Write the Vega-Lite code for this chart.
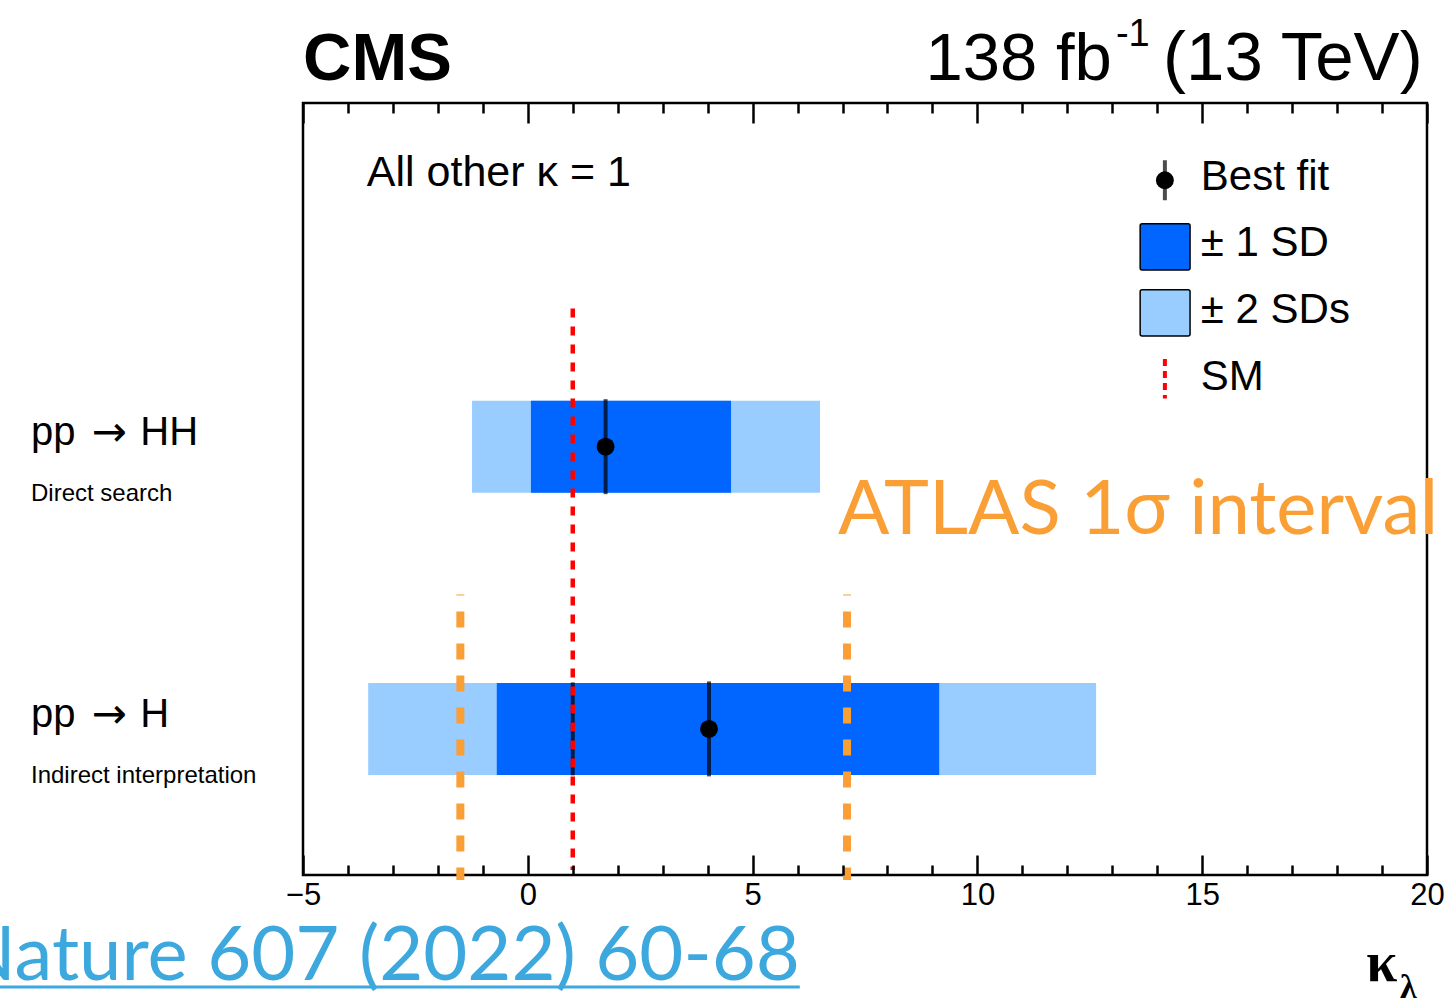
{
  "$schema": "https://vega.github.io/schema/vega-lite/v6.json",
  "width": 1124,
  "height": 772,
  "autosize": {"type": "none"},
  "padding": {"left": 303, "top": 103, "right": 18, "bottom": 131},
  "background": "white",
  "config": {
    "view": {"stroke": "black", "strokeWidth": 2.5},
    "font": "Liberation Sans",
    "text": {"font": "Liberation Sans", "color": "black"}
  },
  "data": {"values": [{}]},
  "datasets": {
    "results": [
      {"initial": "pp", "final": "HH", "note": "Direct search", "row": 2, "lo2": -1.24, "hi2": 6.5, "lo1": 0.07, "hi1": 4.52, "best": 1.73},
      {"initial": "pp", "final": "H", "note": "Indirect interpretation", "row": 1, "lo2": -3.55, "hi2": 12.64, "lo1": -0.69, "hi1": 9.15, "best": 4.03}
    ],
    "atlas": [{"bound": -1.5}, {"bound": 7.1}]
  },
  "resolve": {"axis": {"x": "independent"}},
  "layer": [
    {
      "data": {"name": "results"},
      "mark": {"type": "bar", "size": 92, "color": "#99CCFF"},
      "encoding": {
        "x": {"field": "lo2", "type": "quantitative", "scale": {"domain": [-5, 20], "nice": false, "zero": false},
          "axis": {"orient": "bottom", "values": [-5, 0, 5, 10, 15, 20], "tickSize": -20, "tickWidth": 2.5, "tickColor": "black", "domain": false, "grid": false, "labelFontSize": 31, "labelColor": "black", "labelFont": "Liberation Sans", "labelPadding": 25, "labelFlush": false, "labelOverlap": false, "title": null, "zindex": 1}},
        "x2": {"field": "hi2"},
        "y": {"field": "row", "type": "quantitative", "scale": {"domain": [0.5, 3.2], "nice": false, "zero": false}, "axis": null}
      }
    },
    {
      "data": {"name": "results"},
      "mark": {"type": "bar", "size": 92, "color": "#0066FF"},
      "encoding": {
        "x": {"field": "lo1", "type": "quantitative", "scale": {"domain": [-5, 20], "nice": false, "zero": false},
          "axis": {"orient": "top", "values": [-5, 0, 5, 10, 15, 20], "tickSize": -20, "tickWidth": 2.5, "tickColor": "black", "domain": false, "grid": false, "labels": false, "title": null, "zindex": 1}},
        "x2": {"field": "hi1"},
        "y": {"field": "row", "type": "quantitative", "scale": {"domain": [0.5, 3.2], "nice": false, "zero": false}, "axis": null}
      }
    },
    {
      "mark": {"type": "tick", "orient": "vertical", "size": 93, "thickness": 4, "color": "black"},
      "encoding": {
        "x": {"datum": 1, "type": "quantitative", "scale": {"domain": [-5, 20], "nice": false, "zero": false}, "axis": null},
        "y": {"datum": 1, "type": "quantitative", "scale": {"domain": [0.5, 3.2], "nice": false, "zero": false}, "axis": null}
      }
    },
    {
      "mark": {"type": "rule", "color": "#FF0000", "strokeWidth": 4.5, "strokeDash": [9, 9]},
      "encoding": {
        "x": {"datum": 1, "type": "quantitative", "scale": {"domain": [-5, 20], "nice": false, "zero": false}, "axis": null},
        "y": {"datum": 2.49, "type": "quantitative", "scale": {"domain": [0.5, 3.2], "nice": false, "zero": false}, "axis": null},
        "y2": {"datum": 0.5}
      }
    },
    {
      "data": {"name": "atlas"},
      "mark": {"type": "rule", "color": "#FA9E36", "strokeWidth": 8, "strokeDash": [16, 16], "strokeDashOffset": 15},
      "encoding": {
        "x": {"field": "bound", "type": "quantitative", "scale": {"domain": [-5, 20], "nice": false, "zero": false},
          "axis": {"orient": "bottom", "values": [-4, -3, -2, -1, 1, 2, 3, 4, 6, 7, 8, 9, 11, 12, 13, 14, 16, 17, 18, 19], "tickSize": -10, "tickWidth": 2.5, "tickColor": "black", "domain": false, "grid": false, "labels": false, "title": null, "zindex": 1}},
        "y": {"datum": 1.476, "type": "quantitative", "scale": {"domain": [0.5, 3.2], "nice": false, "zero": false}, "axis": null},
        "y2": {"datum": 0.465}
      }
    },
    {
      "data": {"name": "results"},
      "mark": {"type": "tick", "orient": "vertical", "size": 95, "thickness": 4, "color": "black"},
      "encoding": {
        "x": {"field": "best", "type": "quantitative", "scale": {"domain": [-5, 20], "nice": false, "zero": false},
          "axis": {"orient": "top", "values": [-4, -3, -2, -1, 1, 2, 3, 4, 6, 7, 8, 9, 11, 12, 13, 14, 16, 17, 18, 19], "tickSize": -10, "tickWidth": 2.5, "tickColor": "black", "domain": false, "grid": false, "labels": false, "title": null, "zindex": 1}},
        "y": {"field": "row", "type": "quantitative", "scale": {"domain": [0.5, 3.2], "nice": false, "zero": false}, "axis": null}
      }
    },
    {
      "data": {"name": "results"},
      "mark": {"type": "circle", "size": 320, "color": "black", "opacity": 1},
      "encoding": {
        "x": {"field": "best", "type": "quantitative", "scale": {"domain": [-5, 20], "nice": false, "zero": false}, "axis": null},
        "y": {"field": "row", "type": "quantitative", "scale": {"domain": [0.5, 3.2], "nice": false, "zero": false}, "axis": null}
      }
    },
    {
      "data": {"name": "results"},
      "mark": {"type": "text", "align": "left", "baseline": "middle", "fontSize": 40, "dy": -14},
      "encoding": {
        "x": {"datum": -11.05, "type": "quantitative", "scale": {"domain": [-5, 20], "nice": false, "zero": false}, "axis": null},
        "y": {"field": "row", "type": "quantitative", "scale": {"domain": [0.5, 3.2], "nice": false, "zero": false}, "axis": null},
        "text": {"field": "initial"}
      }
    },
    {
      "data": {"name": "results"},
      "mark": {"type": "text", "text": "→", "align": "left", "baseline": "middle", "fontSize": 42, "font": "DejaVu Sans", "dy": -14},
      "encoding": {
        "x": {"datum": -9.7, "type": "quantitative", "scale": {"domain": [-5, 20], "nice": false, "zero": false}, "axis": null},
        "y": {"field": "row", "type": "quantitative", "scale": {"domain": [0.5, 3.2], "nice": false, "zero": false}, "axis": null}
      }
    },
    {
      "data": {"name": "results"},
      "mark": {"type": "text", "align": "left", "baseline": "middle", "fontSize": 40, "dy": -14},
      "encoding": {
        "x": {"datum": -8.62, "type": "quantitative", "scale": {"domain": [-5, 20], "nice": false, "zero": false}, "axis": null},
        "y": {"field": "row", "type": "quantitative", "scale": {"domain": [0.5, 3.2], "nice": false, "zero": false}, "axis": null},
        "text": {"field": "final"}
      }
    },
    {
      "data": {"name": "results"},
      "mark": {"type": "text", "align": "left", "baseline": "middle", "fontSize": 24, "dy": 47},
      "encoding": {
        "x": {"datum": -11.05, "type": "quantitative", "scale": {"domain": [-5, 20], "nice": false, "zero": false}, "axis": null},
        "y": {"field": "row", "type": "quantitative", "scale": {"domain": [0.5, 3.2], "nice": false, "zero": false}, "axis": null},
        "text": {"field": "note"}
      }
    },
    {
      "mark": {"type": "tick", "orient": "vertical", "size": 40, "thickness": 4, "color": "black"},
      "encoding": {
        "x": {"datum": 14.17, "type": "quantitative", "scale": {"domain": [-5, 20], "nice": false, "zero": false}, "axis": null},
        "y": {"datum": 2.944, "type": "quantitative", "scale": {"domain": [0.5, 3.2], "nice": false, "zero": false}, "axis": null}
      }
    },
    {
      "mark": {"type": "circle", "size": 320, "color": "black", "opacity": 1},
      "encoding": {
        "x": {"datum": 14.17, "type": "quantitative", "scale": {"domain": [-5, 20], "nice": false, "zero": false}, "axis": null},
        "y": {"datum": 2.944, "type": "quantitative", "scale": {"domain": [0.5, 3.2], "nice": false, "zero": false}, "axis": null}
      }
    },
    {
      "mark": {"type": "rect", "fill": "#0066FF", "stroke": "black", "strokeWidth": 1.5, "cornerRadius": 2},
      "encoding": {
        "x": {"datum": 13.62, "type": "quantitative", "scale": {"domain": [-5, 20], "nice": false, "zero": false}, "axis": null},
        "x2": {"datum": 14.73},
        "y": {"datum": 2.79, "type": "quantitative", "scale": {"domain": [0.5, 3.2], "nice": false, "zero": false}, "axis": null},
        "y2": {"datum": 2.626}
      }
    },
    {
      "mark": {"type": "rect", "fill": "#99CCFF", "stroke": "black", "strokeWidth": 1.5, "cornerRadius": 2},
      "encoding": {
        "x": {"datum": 13.62, "type": "quantitative", "scale": {"domain": [-5, 20], "nice": false, "zero": false}, "axis": null},
        "x2": {"datum": 14.73},
        "y": {"datum": 2.556, "type": "quantitative", "scale": {"domain": [0.5, 3.2], "nice": false, "zero": false}, "axis": null},
        "y2": {"datum": 2.392}
      }
    },
    {
      "mark": {"type": "rule", "color": "#FF0000", "strokeWidth": 4, "strokeDash": [7, 5]},
      "encoding": {
        "x": {"datum": 14.17, "type": "quantitative", "scale": {"domain": [-5, 20], "nice": false, "zero": false}, "axis": null},
        "y": {"datum": 2.311, "type": "quantitative", "scale": {"domain": [0.5, 3.2], "nice": false, "zero": false}, "axis": null},
        "y2": {"datum": 2.171}
      }
    },
    {
      "mark": {"type": "text", "text": "Best fit", "align": "left", "baseline": "middle", "fontSize": 42},
      "encoding": {
        "x": {"datum": 14.97, "type": "quantitative", "scale": {"domain": [-5, 20], "nice": false, "zero": false}, "axis": null},
        "y": {"datum": 2.955, "type": "quantitative", "scale": {"domain": [0.5, 3.2], "nice": false, "zero": false}, "axis": null}
      }
    },
    {
      "mark": {"type": "text", "text": "± 1 SD", "align": "left", "baseline": "middle", "fontSize": 42},
      "encoding": {
        "x": {"datum": 14.97, "type": "quantitative", "scale": {"domain": [-5, 20], "nice": false, "zero": false}, "axis": null},
        "y": {"datum": 2.72, "type": "quantitative", "scale": {"domain": [0.5, 3.2], "nice": false, "zero": false}, "axis": null}
      }
    },
    {
      "mark": {"type": "text", "text": "± 2 SDs", "align": "left", "baseline": "middle", "fontSize": 42},
      "encoding": {
        "x": {"datum": 14.97, "type": "quantitative", "scale": {"domain": [-5, 20], "nice": false, "zero": false}, "axis": null},
        "y": {"datum": 2.486, "type": "quantitative", "scale": {"domain": [0.5, 3.2], "nice": false, "zero": false}, "axis": null}
      }
    },
    {
      "mark": {"type": "text", "text": "SM", "align": "left", "baseline": "middle", "fontSize": 42},
      "encoding": {
        "x": {"datum": 14.97, "type": "quantitative", "scale": {"domain": [-5, 20], "nice": false, "zero": false}, "axis": null},
        "y": {"datum": 2.248, "type": "quantitative", "scale": {"domain": [0.5, 3.2], "nice": false, "zero": false}, "axis": null}
      }
    },
    {
      "mark": {"type": "text", "text": "All other κ = 1", "align": "left", "baseline": "alphabetic", "fontSize": 43},
      "encoding": {
        "x": {"datum": -3.58, "type": "quantitative", "scale": {"domain": [-5, 20], "nice": false, "zero": false}, "axis": null},
        "y": {"datum": 2.925, "type": "quantitative", "scale": {"domain": [0.5, 3.2], "nice": false, "zero": false}, "axis": null}
      }
    },
    {
      "mark": {"type": "text", "text": "CMS", "align": "left", "baseline": "alphabetic", "fontSize": 67, "fontWeight": "bold"},
      "encoding": {
        "x": {"datum": -5, "type": "quantitative", "scale": {"domain": [-5, 20], "nice": false, "zero": false}, "axis": null},
        "y": {"datum": 3.3, "type": "quantitative", "scale": {"domain": [0.5, 3.2], "nice": false, "zero": false}, "axis": null}
      }
    },
    {
      "mark": {"type": "text", "text": "138 fb", "align": "right", "baseline": "alphabetic", "fontSize": 67},
      "encoding": {
        "x": {"datum": 12.99, "type": "quantitative", "scale": {"domain": [-5, 20], "nice": false, "zero": false}, "axis": null},
        "y": {"datum": 3.3, "type": "quantitative", "scale": {"domain": [0.5, 3.2], "nice": false, "zero": false}, "axis": null}
      }
    },
    {
      "mark": {"type": "text", "text": "-1", "align": "left", "baseline": "alphabetic", "fontSize": 38},
      "encoding": {
        "x": {"datum": 13.08, "type": "quantitative", "scale": {"domain": [-5, 20], "nice": false, "zero": false}, "axis": null},
        "y": {"datum": 3.42, "type": "quantitative", "scale": {"domain": [0.5, 3.2], "nice": false, "zero": false}, "axis": null}
      }
    },
    {
      "mark": {"type": "text", "text": "(13 TeV)", "align": "left", "baseline": "alphabetic", "fontSize": 69},
      "encoding": {
        "x": {"datum": 14.13, "type": "quantitative", "scale": {"domain": [-5, 20], "nice": false, "zero": false}, "axis": null},
        "y": {"datum": 3.3, "type": "quantitative", "scale": {"domain": [0.5, 3.2], "nice": false, "zero": false}, "axis": null}
      }
    },
    {
      "mark": {"type": "text", "text": "ATLAS 1σ interval", "align": "left", "baseline": "alphabetic", "fontSize": 76, "font": "Lato", "color": "#FA9E36"},
      "encoding": {
        "x": {"datum": 6.9, "type": "quantitative", "scale": {"domain": [-5, 20], "nice": false, "zero": false}, "axis": null},
        "y": {"datum": 1.689, "type": "quantitative", "scale": {"domain": [0.5, 3.2], "nice": false, "zero": false}, "axis": null}
      }
    },
    {
      "mark": {"type": "text", "text": "Nature 607 (2022) 60-68", "align": "right", "baseline": "alphabetic", "fontSize": 76, "font": "Lato", "color": "#3DA8DE"},
      "encoding": {
        "x": {"datum": 6.05, "type": "quantitative", "scale": {"domain": [-5, 20], "nice": false, "zero": false}, "axis": null},
        "y": {"datum": 0.11, "type": "quantitative", "scale": {"domain": [0.5, 3.2], "nice": false, "zero": false}, "axis": null}
      }
    },
    {
      "mark": {"type": "rule", "color": "#3DA8DE", "strokeWidth": 3},
      "encoding": {
        "x": {"datum": -12, "type": "quantitative", "scale": {"domain": [-5, 20], "nice": false, "zero": false}, "axis": null},
        "x2": {"datum": 6.05},
        "y": {"datum": 0.085, "type": "quantitative", "scale": {"domain": [0.5, 3.2], "nice": false, "zero": false}, "axis": null}
      }
    },
    {
      "mark": {"type": "text", "text": "κ", "align": "left", "baseline": "alphabetic", "fontSize": 56, "font": "Liberation Serif", "fontWeight": "bold"},
      "encoding": {
        "x": {"datum": 18.65, "type": "quantitative", "scale": {"domain": [-5, 20], "nice": false, "zero": false}, "axis": null},
        "y": {"datum": 0.105, "type": "quantitative", "scale": {"domain": [0.5, 3.2], "nice": false, "zero": false}, "axis": null}
      }
    },
    {
      "mark": {"type": "text", "text": "λ", "align": "left", "baseline": "alphabetic", "fontSize": 34, "font": "Liberation Serif", "fontWeight": "bold"},
      "encoding": {
        "x": {"datum": 19.4, "type": "quantitative", "scale": {"domain": [-5, 20], "nice": false, "zero": false}, "axis": null},
        "y": {"datum": 0.045, "type": "quantitative", "scale": {"domain": [0.5, 3.2], "nice": false, "zero": false}, "axis": null}
      }
    }
  ]
}
